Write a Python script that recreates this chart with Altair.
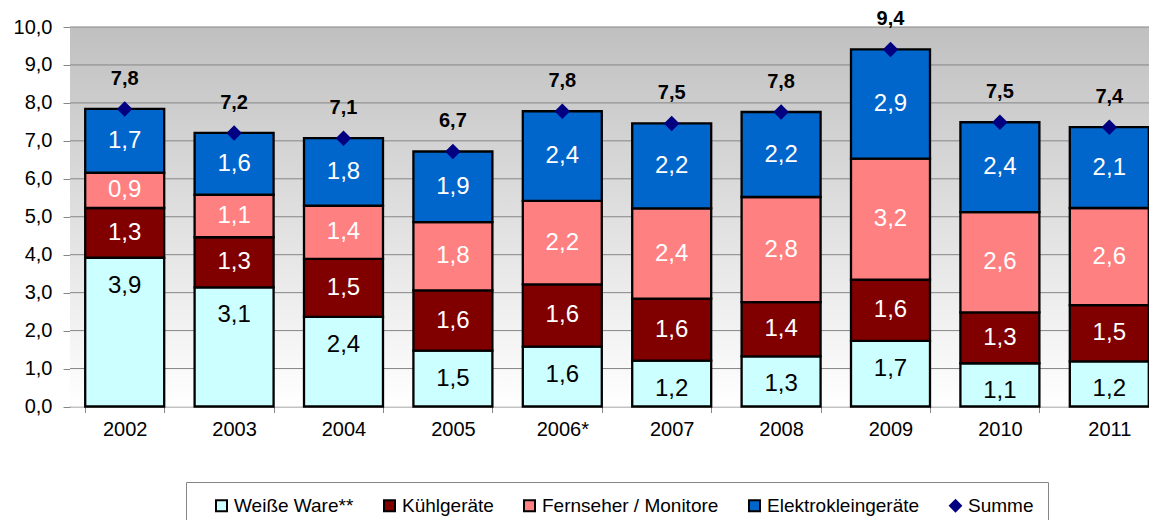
import altair as alt
import pandas as pd

FONT = "Liberation Sans"

years = ["2002", "2003", "2004", "2005", "2006*", "2007", "2008", "2009", "2010", "2011"]
series_names = ["Weiße Ware**", "Kühlgeräte", "Fernseher / Monitore", "Elektrokleingeräte"]
total_name = "Summe"

weisse = [3.92, 3.14, 2.36, 1.47, 1.58, 1.21, 1.32, 1.73, 1.14, 1.19]
kuehl = [1.31, 1.32, 1.53, 1.59, 1.64, 1.63, 1.43, 1.61, 1.34, 1.48]
fern = [0.93, 1.12, 1.40, 1.80, 2.20, 2.38, 2.77, 3.19, 2.64, 2.56]
elektro = [1.68, 1.63, 1.78, 1.86, 2.36, 2.24, 2.24, 2.88, 2.37, 2.13]
summe = [7.84, 7.21, 7.07, 6.72, 7.78, 7.46, 7.76, 9.41, 7.49, 7.36]

y_ticks = [0, 1, 2, 3, 4, 5, 6, 7, 8, 9, 10]

colors = ["#CCFFFF", "#800000", "#FF8080", "#0066CC", "#000080"]
shapes = ["square", "square", "square", "square", "diamond"]


def fmt(v):
    return f"{v:.1f}".replace(".", ",")


rows = []
for i, yr in enumerate(years):
    base = 0.0
    for s, vals in zip(series_names, [weisse, kuehl, fern, elektro]):
        v = vals[i]
        rows.append(dict(year=yr, series=s, y0=base, y1=base + v,
                         mid=base + v / 2, label=fmt(v)))
        base += v
bars_df = pd.DataFrame(rows)
tot_df = pd.DataFrame({"year": years, "series": total_name, "total": summe,
                       "label": [fmt(v) for v in summe]})
grid_df = pd.DataFrame({"g": y_ticks[1:]})
bg_df = pd.DataFrame({"a": [0]})

PLOT_W = 1079      # visible part of the plot (svg is clipped at the page edge)
BAND_RANGE = 1094  # full band range; the last band runs past the visible edge

domain_all = series_names + [total_name]
color_scale = alt.Scale(domain=domain_all, range=colors)
y_scale = alt.Scale(domain=[0, 10], nice=False, zero=True)
x_scale = alt.Scale(range=[0, BAND_RANGE], paddingInner=0.278, paddingOuter=0.139)

x_axis = alt.Axis(title=None, labelAngle=0, tickBand="extent", grid=False,
                  domainColor="#868686", tickColor="#868686", tickSize=6,
                  labelPadding=7, labelFontSize=20, labelFont=FONT,
                  labelColor="black")
y_axis = alt.Axis(title=None, values=y_ticks, grid=False,
                  labelExpr="replace(format(datum.value, '.1f'), '.', ',')",
                  domainColor="#868686", tickColor="#868686", tickSize=7,
                  labelPadding=11, labelFontSize=20, labelFont=FONT,
                  labelColor="black")

gradient = {
    "gradient": "linear", "x1": 0, "y1": 0, "x2": 0, "y2": 1,
    "stops": [{"offset": 0, "color": "#C0C0C0"}, {"offset": 1, "color": "#FFFFFF"}],
}

X = alt.X("year:N", sort=years, scale=x_scale, axis=x_axis)

background = alt.Chart(bg_df).mark_rect(fill=gradient, stroke=None).encode(
    x=alt.value(0), x2=alt.value(BAND_RANGE),
    y=alt.Y(datum=10, scale=y_scale, axis=y_axis), y2=alt.datum(0),
)

grid = alt.Chart(grid_df).mark_rule(color="#868686", strokeWidth=1).encode(
    x=alt.value(0), x2=alt.value(BAND_RANGE),
    y=alt.Y("g:Q", scale=y_scale, axis=y_axis),
)

legend = alt.Legend(title=" ")

bars = alt.Chart(bars_df).mark_bar(stroke="black", strokeWidth=2.3).encode(
    x=X,
    y=alt.Y("y0:Q", scale=y_scale, axis=y_axis),
    y2="y1:Q",
    color=alt.Color("series:N", scale=color_scale, legend=legend),
)

labels_w = alt.Chart(bars_df).transform_filter(
    alt.datum.series == series_names[0]
).mark_text(fontSize=24, font=FONT, color="black", baseline="middle", dy=28).encode(
    x=X,
    y=alt.Y("y1:Q", scale=y_scale, axis=y_axis),
    text="label:N",
)

labels_o = alt.Chart(bars_df).transform_filter(
    alt.datum.series != series_names[0]
).mark_text(fontSize=24, font=FONT, color="white", baseline="middle").encode(
    x=X,
    y=alt.Y("mid:Q", scale=y_scale, axis=y_axis),
    text="label:N",
)

points = alt.Chart(tot_df).mark_point(filled=True, size=240, opacity=1).encode(
    x=X,
    y=alt.Y("total:Q", scale=y_scale, axis=y_axis),
    color=alt.Color("series:N", scale=color_scale, legend=legend),
    shape=alt.Shape("series:N", scale=alt.Scale(domain=domain_all, range=shapes),
                    legend=legend),
)

tot_labels = alt.Chart(tot_df).mark_text(
    fontSize=20, font=FONT, fontWeight="bold", color="black", baseline="middle", dy=-30
).encode(
    x=X,
    y=alt.Y("total:Q", scale=y_scale, axis=y_axis),
    text="label:N",
)

chart = alt.layer(background, grid, bars, labels_w, labels_o, points, tot_labels).properties(
    width=PLOT_W, height=379.5,
    padding={"left": 62, "top": 19, "right": 0, "bottom": 120},
    autosize=alt.AutoSizeParams(type="none"),
).configure_view(stroke=None).configure_legend(
    orient="none", legendX=116, legendY=455, direction="horizontal", columns=5,
    padding=14, strokeColor="#868686", strokeWidth=1, fillColor="white",
    titleOrient="left", titlePadding=12, titleFontSize=10,
    labelFont=FONT, labelFontSize=19, labelColor="black", labelOffset=3,
    labelLimit=400, columnPadding=26, symbolSize=121, symbolStrokeWidth=2,
    symbolStrokeColor={"expr": "datum.value === 'Summe' ? '#000080' : 'black'"},
)

chart.save("out.html", embed_options={"renderer": "svg", "actions": False})
